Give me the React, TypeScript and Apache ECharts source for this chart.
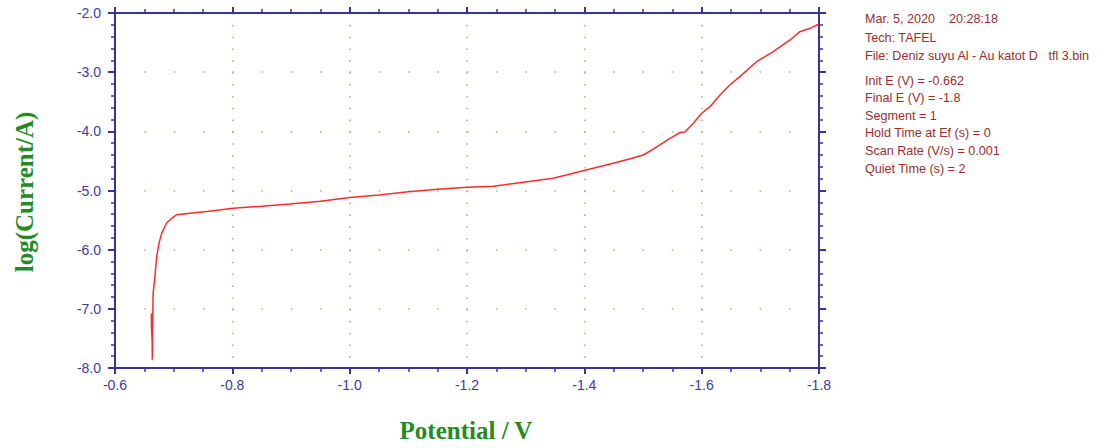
import React, { useEffect, useRef } from "react";
import * as echarts from "echarts";

const potential = [
  -0.662, -0.6621, -0.6633, -0.6636, -0.6641, -0.6645, -0.665, -0.668, -0.671, -0.675,
  -0.6796, -0.688, -0.6965, -0.705, -0.728, -0.76, -0.8017, -0.85, -0.898, -0.95,
  -1.0, -1.05, -1.1, -1.15, -1.2, -1.245, -1.296, -1.347, -1.398, -1.449,
  -1.48, -1.5005, -1.5175, -1.546, -1.563, -1.5716, -1.5857, -1.6, -1.6142, -1.6312, -1.648,
  -1.665, -1.6936, -1.722, -1.7505, -1.7675, -1.7846, -1.8,
];
const logCurrent = [
  -7.08, -7.28, -7.55, -7.86, -7.4, -7.05, -6.74, -6.46, -6.12, -5.89,
  -5.72, -5.55, -5.47, -5.41, -5.385, -5.35, -5.3, -5.265, -5.228, -5.18,
  -5.12, -5.076, -5.02, -4.98, -4.946, -4.93, -4.861, -4.794, -4.665, -4.54,
  -4.46, -4.4, -4.3, -4.12, -4.02, -4.01, -3.864, -3.695, -3.583, -3.386, -3.217,
  -3.076, -2.823, -2.654, -2.456, -2.316, -2.259, -2.186,
];

const headerLines = ["Mar. 5, 2020\u00a0\u00a0\u00a0 20:28:18", "Tech: TAFEL", "File: Deniz suyu Al - Au katot D\u00a0\u00a0 tfl 3.bin"];
const paramLines = [
  "Init E (V) = -0.662",
  "Final E (V) = -1.8",
  "Segment = 1",
  "Hold Time at Ef (s) = 0",
  "Scan Rate (V/s) = 0.001",
  "Quiet Time (s) = 2",
];
const xTitle = "Potential / V";
const yTitle = "log(Current/A)";

const AXIS = "#343499";
const LABEL = "#3a3aaa";
const GRIDDOT = "#9cc07a";
const TITLE = "#228b22";
const NOTE = "#9b2d2d";

export default function App() {
  const ref = useRef<HTMLDivElement>(null);
  useEffect(() => {
    if (!ref.current) return;
    const chart = echarts.init(ref.current, null, { renderer: "svg" });
    const data = potential.map((v, i) => [v, logCurrent[i]]);
    const fmt = (v: number) => v.toFixed(1);
    const baseX = {
      type: "value" as const,
      inverse: true,
      min: -1.8,
      max: -0.6,
      interval: 0.2,
      axisLine: { show: true, onZero: false, lineStyle: { color: AXIS, width: 2 } },
      axisTick: { show: true, length: 6, lineStyle: { color: AXIS, width: 2 } },
      minorTick: { show: true, splitNumber: 4, length: 4, lineStyle: { color: AXIS, width: 1.5 } },
    };
    const baseY = {
      type: "value" as const,
      min: -8,
      max: -2,
      interval: 1,
      axisLine: { show: true, onZero: false, lineStyle: { color: AXIS, width: 2 } },
      axisTick: { show: true, length: 7, lineStyle: { color: AXIS, width: 2 } },
      minorTick: { show: true, splitNumber: 5, length: 4, lineStyle: { color: AXIS, width: 1.5 } },
    };
    const noteFont = "12.6px 'Liberation Sans', Arial, sans-serif";
    const graphics: any[] = [];
    headerLines.forEach((t, i) => {
      graphics.push({
        type: "text",
        x: 865,
        y: 19 + i * 18.5,
        style: { text: t, fill: NOTE, font: noteFont, verticalAlign: "middle" },
      });
    });
    paramLines.forEach((t, i) => {
      graphics.push({
        type: "text",
        x: 865,
        y: 80.5 + i * 17.6,
        style: { text: t, fill: NOTE, font: noteFont, verticalAlign: "middle" },
      });
    });
    graphics.push({
      type: "text",
      x: 466,
      y: 430,
      style: {
        text: xTitle,
        fill: TITLE,
        font: "bold 25px 'Liberation Serif', 'Times New Roman', serif",
        align: "center",
        verticalAlign: "middle",
      },
    });
    graphics.push({
      type: "text",
      x: 24,
      y: 192,
      rotation: Math.PI / 2,
      style: {
        text: yTitle,
        fill: TITLE,
        font: "bold 25px 'Liberation Serif', 'Times New Roman', serif",
        align: "center",
        verticalAlign: "middle",
      },
    });

    chart.setOption({
      animation: false,
      backgroundColor: "#ffffff",
      grid: { left: 115, right: 284, top: 13, bottom: 80, containLabel: false },
      xAxis: [
        {
          ...baseX,
          position: "bottom",
          axisLabel: {
            show: true,
            formatter: fmt,
            color: LABEL,
            fontSize: 14,
            fontFamily: "'Liberation Sans', Arial, sans-serif",
            margin: 10,
          },
          splitLine: { show: true, lineStyle: { color: GRIDDOT, width: 1.6, type: [1.6, 10.24] } },
        },
        {
          ...baseX,
          position: "top",
          axisLabel: { show: false },
          splitLine: { show: false },
        },
      ],
      yAxis: [
        {
          ...baseY,
          position: "left",
          axisLabel: {
            show: true,
            formatter: fmt,
            color: LABEL,
            fontSize: 14,
            fontFamily: "'Liberation Sans', Arial, sans-serif",
            margin: 14,
          },
          splitLine: { show: true, lineStyle: { color: GRIDDOT, width: 1.6, type: [1.6, 27.7] } },
        },
        {
          ...baseY,
          position: "right",
          axisLabel: { show: false },
          splitLine: { show: false },
        },
      ],
      series: [
        {
          type: "line",
          data,
          showSymbol: false,
          symbol: "none",
          lineStyle: { color: "#ff2a2a", width: 1.5 },
          xAxisIndex: 0,
          yAxisIndex: 0,
        },
      ],
      graphic: graphics,
    });
    return () => chart.dispose();
  }, []);
  return (
    <div
      ref={ref}
      style={{ position: "fixed", left: 0, top: 0, width: 1103, height: 448, background: "#fff" }}
    />
  );
}
